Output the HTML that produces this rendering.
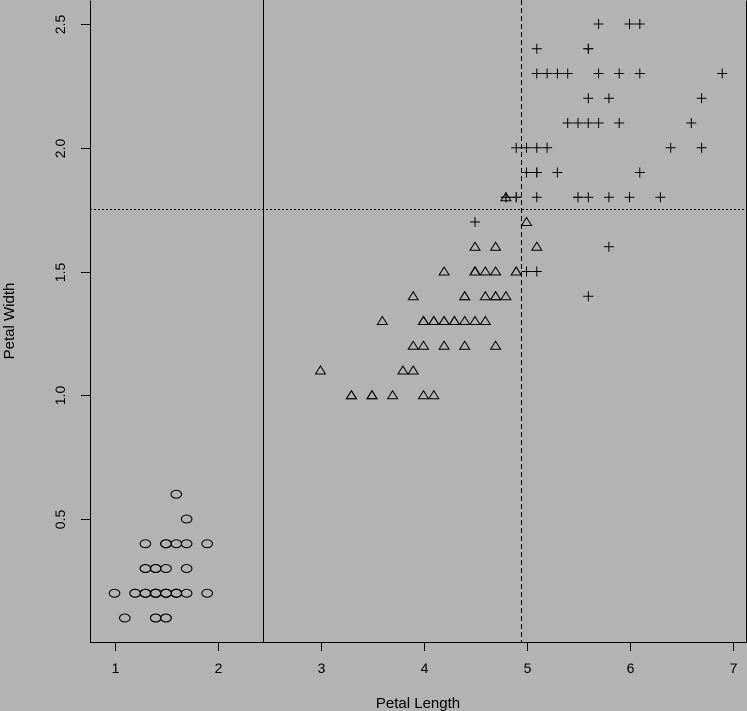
<!DOCTYPE html>
<html><head><style>html,body{margin:0;padding:0;background:#b3b3b3;}svg{display:block;}</style></head>
<body>
<svg id="s" width="747" height="711" xmlns="http://www.w3.org/2000/svg" font-family="Liberation Sans, sans-serif" font-size="14">
<rect x="0" y="0" width="747" height="711" fill="#b3b3b3"/>
<path d="M90.5,0.5 V642.5 H746.5 V0.5" fill="none" stroke="#000" stroke-width="1"/>
<line x1="263.5" y1="0" x2="263.5" y2="642" stroke="#000"/>
<line x1="521.5" y1="0" x2="521.5" y2="642" stroke="#000" stroke-dasharray="5,3"/>
<line x1="90" y1="209.5" x2="747" y2="209.5" stroke="#000" stroke-dasharray="2,2"/>
<g id="ax" stroke="#000"></g>
<g id="lab" fill="#000" text-anchor="middle"></g>
<g id="pts" fill="none" stroke="#000" stroke-width="1"></g>
<text x="418" y="708" text-anchor="middle" font-size="15">Petal Length</text>
<text transform="translate(14,321) rotate(-90)" text-anchor="middle" font-size="15">Petal Width</text>
</svg>
<script>
var NS="http://www.w3.org/2000/svg";
function X(v){return 114.5+103*(v-1);}
function Y(v){return 519-247.5*(v-0.5);}
function el(p,t,a,txt){var e=document.createElementNS(NS,t);for(var k in a)e.setAttribute(k,a[k]);if(txt)e.textContent=txt;document.getElementById(p).appendChild(e);}
for(var i=1;i<=7;i++){var x=Math.round(X(i))+0.5;el("ax","line",{x1:x,y1:642,x2:x,y2:651});el("lab","text",{x:x,y:673},""+i);}
[0.5,1.0,1.5,2.0,2.5].forEach(function(v){var y=Math.round(Y(v))+0.5;el("ax","line",{x1:81,y1:y,x2:90,y2:y});el("lab","text",{transform:"translate(65,"+y+") rotate(-90)"},v.toFixed(1));});
var se=[[1.4,.2],[1.4,.2],[1.3,.2],[1.5,.2],[1.4,.2],[1.7,.4],[1.4,.3],[1.5,.2],[1.4,.2],[1.5,.1],[1.5,.2],[1.6,.2],[1.4,.1],[1.1,.1],[1.2,.2],[1.5,.4],[1.3,.4],[1.4,.3],[1.7,.3],[1.5,.3],[1.7,.2],[1.5,.4],[1.0,.2],[1.7,.5],[1.9,.2],[1.6,.2],[1.6,.4],[1.5,.2],[1.4,.2],[1.6,.2],[1.6,.2],[1.5,.4],[1.5,.1],[1.4,.2],[1.5,.2],[1.2,.2],[1.3,.2],[1.4,.1],[1.3,.2],[1.5,.2],[1.3,.3],[1.3,.3],[1.3,.2],[1.6,.6],[1.9,.4],[1.4,.3],[1.6,.2],[1.4,.2],[1.5,.2],[1.4,.2]];
var ve=[[4.7,1.4],[4.5,1.5],[4.9,1.5],[4.0,1.3],[4.6,1.5],[4.5,1.3],[4.7,1.6],[3.3,1.0],[4.6,1.3],[3.9,1.4],[3.5,1.0],[4.2,1.5],[4.0,1.0],[4.7,1.4],[3.6,1.3],[4.4,1.4],[4.5,1.5],[4.1,1.0],[4.5,1.5],[3.9,1.1],[4.8,1.8],[4.0,1.3],[4.9,1.5],[4.7,1.2],[4.3,1.3],[4.4,1.4],[4.8,1.4],[5.0,1.7],[4.5,1.5],[3.5,1.0],[3.8,1.1],[3.7,1.0],[3.9,1.2],[5.1,1.6],[4.5,1.5],[4.5,1.6],[4.7,1.5],[4.4,1.3],[4.1,1.3],[4.0,1.3],[4.4,1.2],[4.6,1.4],[4.0,1.2],[3.3,1.0],[4.2,1.3],[4.2,1.2],[4.2,1.3],[4.3,1.3],[3.0,1.1],[4.1,1.3]];
var vi=[[6.0,2.5],[5.1,1.9],[5.9,2.1],[5.6,1.8],[5.8,2.2],[6.6,2.1],[4.5,1.7],[6.3,1.8],[5.8,1.8],[6.1,2.5],[5.1,2.0],[5.3,1.9],[5.5,2.1],[5.0,2.0],[5.1,2.4],[5.3,2.3],[5.5,1.8],[6.7,2.2],[6.9,2.3],[5.0,1.5],[5.7,2.3],[4.9,2.0],[6.7,2.0],[4.9,1.8],[5.7,2.1],[6.0,1.8],[4.8,1.8],[4.9,1.8],[5.6,2.1],[5.8,1.6],[6.1,1.9],[6.4,2.0],[5.6,2.2],[5.1,1.5],[5.6,1.4],[6.1,2.3],[5.6,2.4],[5.5,1.8],[4.8,1.8],[5.4,2.1],[5.6,2.4],[5.1,2.3],[5.1,1.9],[5.9,2.3],[5.7,2.5],[5.2,2.3],[5.0,1.9],[5.2,2.0],[5.4,2.3],[5.1,1.8]];
se.forEach(function(p){el("pts","ellipse",{cx:X(p[0]),cy:Y(p[1]),rx:5.3,ry:4});});
ve.forEach(function(p){var x=X(p[0]),y=Y(p[1]);el("pts","path",{d:"M"+(x-5)+","+(y+3.5)+" L"+x+","+(y-4.5)+" L"+(x+5)+","+(y+3.5)+" Z"});});
vi.forEach(function(p){var x=X(p[0]),y=Y(p[1]);el("pts","path",{d:"M"+(x-5)+","+y+" H"+(x+5)+" M"+x+","+(y-5)+" V"+(y+5)});});
</script>
</body></html>
